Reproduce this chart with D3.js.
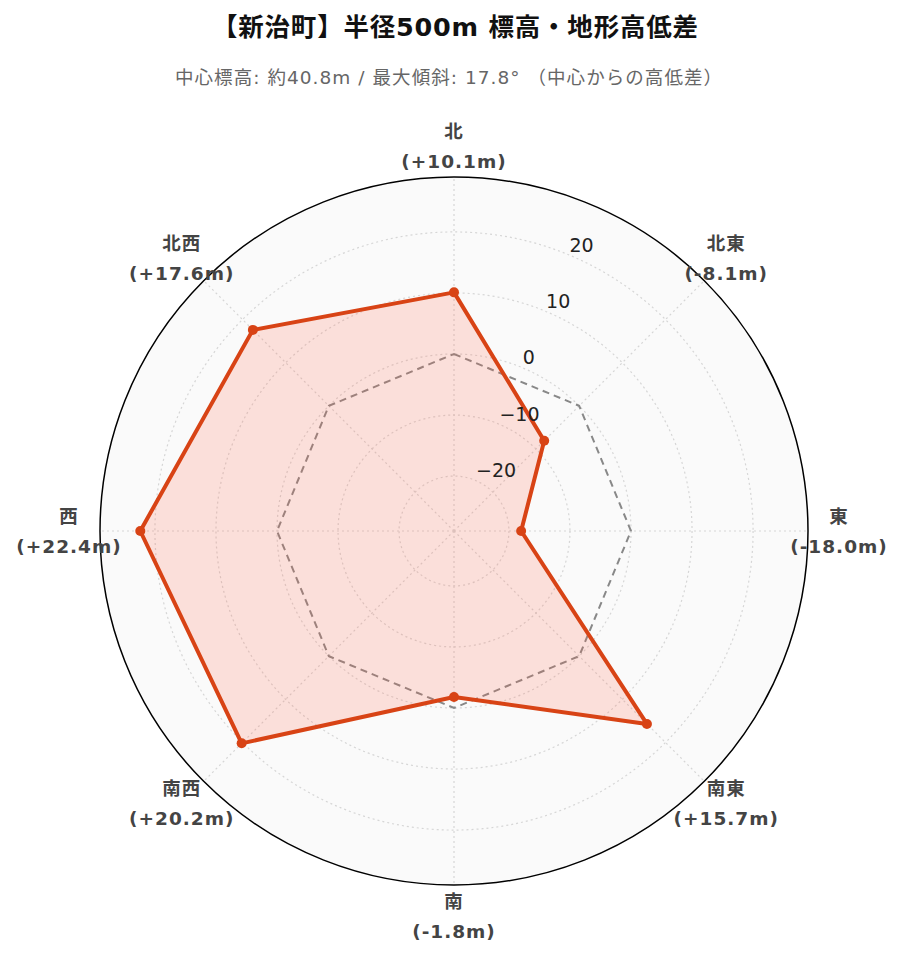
<!DOCTYPE html>
<html><head><meta charset="utf-8">
<script src="https://cdn.jsdelivr.net/npm/d3@7"></script>
<style>body{margin:0;background:#fff;} svg{display:block;font-family:"DejaVu Sans","Noto Sans CJK JP",sans-serif;}</style>
</head><body>
<script>
const directions = ["北","北東","東","南東","南","南西","西","北西"];
const elevDiff = [10.1, -8.1, -18.0, 15.7, -1.8, 20.2, 22.4, 17.6];
const referenceValues = [0, 0, 0, 0, 0, 0, 0, 0];
const radialTicks = [-20, -10, 0, 10, 20];
const radialRange = [-29, 29];
const titleText = "【新治町】半径500m 標高・地形高低差";
const subtitleText = "中心標高: 約40.8m / 最大傾斜: 17.8° （中心からの高低差）";

const W = 903, H = 962, cx = 454, cy = 531, R = 354;
const svg = d3.select("body").append("svg").attr("width", W).attr("height", H);
const r = d3.scaleLinear().domain(radialRange).range([0, R]);
const ang = d3.scaleLinear().domain([0, directions.length]).range([0, 2*Math.PI]);
const px = (i, v) => cx + r(v) * Math.sin(ang(i));
const py = (i, v) => cy - r(v) * Math.cos(ang(i));

svg.append("text").attr("x", 212).attr("y", 27).attr("dominant-baseline","central")
  .attr("textLength", 486).attr("lengthAdjust","spacing")
  .attr("font-size", 25.5).attr("font-weight","bold").attr("fill","#111").text(titleText);
svg.append("text").attr("x", 175).attr("y", 77).attr("dominant-baseline","central")
  .attr("textLength", 547).attr("lengthAdjust","spacing")
  .attr("font-size", 18.5).attr("fill","#666").text(subtitleText);

const g = svg.append("g");
g.append("circle").attr("cx",cx).attr("cy",cy).attr("r",R).attr("fill","#fafafa");
// radial grid
g.selectAll(".rg").data(radialTicks).join("circle").attr("cx",cx).attr("cy",cy).attr("r",d=>r(d))
  .attr("fill","none").attr("stroke","#d6d6d6").attr("stroke-width",1.2).attr("stroke-dasharray","2,3");
// angular grid
g.selectAll(".ag").data(directions).join("line")
  .attr("x1",cx).attr("y1",cy)
  .attr("x2",(d,i)=>cx+R*Math.sin(ang(i))).attr("y2",(d,i)=>cy-R*Math.cos(ang(i)))
  .attr("stroke","#d6d6d6").attr("stroke-width",1.2).attr("stroke-dasharray","2,3");
g.append("circle").attr("cx",cx).attr("cy",cy).attr("r",R).attr("fill","none").attr("stroke","#000").attr("stroke-width",1.5);

const line = d3.line().curve(d3.curveLinearClosed);
// reference
g.append("path").attr("d", line(referenceValues.map((v,i)=>[px(i,v),py(i,v)])))
  .attr("fill","none").attr("stroke","#888").attr("stroke-width",2).attr("stroke-dasharray","7,5");
// data
const pts = elevDiff.map((v,i)=>[px(i,v),py(i,v)]);
g.append("path").attr("d", line(pts)).attr("fill","rgba(255,99,71,0.18)")
  .attr("stroke","#d84315").attr("stroke-width",4).attr("stroke-linejoin","round");
g.selectAll(".pt").data(elevDiff).join("circle").attr("cx",(d,i)=>px(i,d)).attr("cy",(d,i)=>py(i,d))
  .attr("r",5).attr("fill","#d84315");

// radial tick labels
const ta = Math.PI/8;
const fmt = d3.format("d");
g.selectAll(".rt").data(radialTicks).join("text")
  .attr("x", d=>cx + r(d)*Math.sin(ta) + 1).attr("y", d=>cy - r(d)*Math.cos(ta) - 10)
  .attr("dominant-baseline","central").attr("font-size",19).attr("fill","#222").text(d=>fmt(d));

// angular labels
const LR = 385;
const lab = g.selectAll(".al").data(directions).join("text")
  .attr("text-anchor","middle").attr("font-size",18.5).attr("letter-spacing",1)
  .attr("font-weight","bold").attr("fill","#444");
lab.append("tspan").attr("x",(d,i)=>cx+LR*Math.sin(ang(i))).attr("y",(d,i)=>cy-LR*Math.cos(ang(i))-15)
  .attr("dominant-baseline","central").text(d=>d);
lab.append("tspan").attr("x",(d,i)=>cx+LR*Math.sin(ang(i))).attr("y",(d,i)=>cy-LR*Math.cos(ang(i))+15)
  .attr("dominant-baseline","central").text((d,i)=>"(" + (elevDiff[i]>0?"+":"") + elevDiff[i].toFixed(1) + "m)");
</script>
</body></html>
